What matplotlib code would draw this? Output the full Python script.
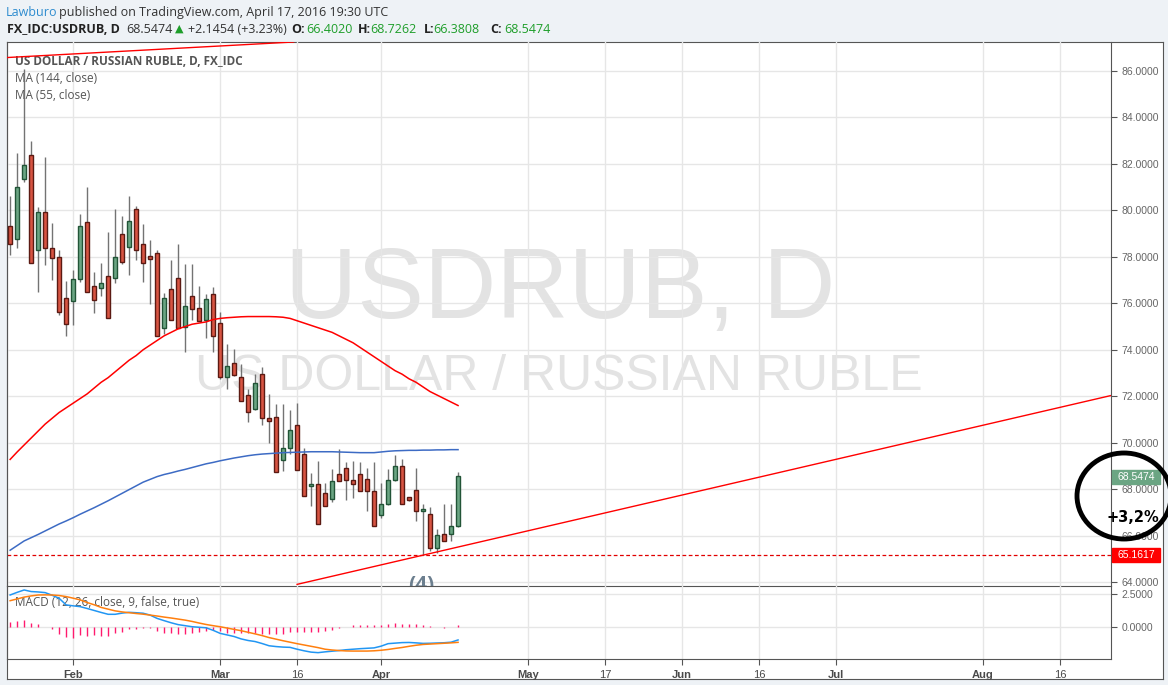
import numpy as np
import pandas as pd
import matplotlib
matplotlib.use("Agg")
import matplotlib.pyplot as plt
from matplotlib.patches import Ellipse, Rectangle

# Donnees (USDRUB, journalier)
start_date = "2016-01-19"

opens = [79.31, 78.77, 81.35, 82.38, 78.30, 79.93, 78.38, 77.99, 76.21, 76.10,
         77.05, 79.48, 76.73, 76.66, 77.18, 77.09, 78.98, 78.42, 80.06, 78.54,
         78.04, 78.17, 74.94, 76.60, 77.07, 74.99, 76.32, 75.80, 75.29, 76.40,
         75.16, 72.82, 73.44, 72.84, 72.06, 71.43, 72.97, 71.08, 71.12, 69.27,
         69.77, 70.78, 69.53, 68.15, 68.24, 67.85, 67.59, 68.67, 68.93, 68.41,
         68.67, 68.45, 67.94, 66.89, 67.36, 68.41, 69.01, 67.68, 67.98, 67.08,
         66.91, 65.45, 66.09, 66.09, 66.40]
highs = [80.60, 82.46, 86.09, 82.99, 80.14, 82.29, 79.46, 78.31, 76.98, 77.45,
         79.84, 81.00, 77.35, 77.74, 79.08, 80.07, 79.77, 80.63, 80.20, 79.43,
         78.74, 78.28, 76.45, 77.88, 78.57, 77.71, 77.71, 76.73, 76.40, 76.70,
         75.63, 74.23, 74.05, 73.40, 72.32, 72.97, 73.27, 72.10, 71.68, 71.68,
         71.39, 71.72, 69.76, 68.71, 69.21, 68.28, 68.85, 69.71, 69.18, 69.20,
         69.18, 68.90, 69.18, 68.28, 68.88, 69.48, 69.28, 67.68, 68.93, 67.38,
         67.25, 66.30, 67.38, 67.38, 68.73]
lows = [78.09, 78.38, 81.24, 77.74, 76.47, 77.63, 76.99, 75.51, 74.58, 75.05,
        76.90, 76.49, 75.57, 76.30, 75.37, 76.88, 77.68, 77.23, 77.85, 76.90,
        75.96, 74.60, 74.68, 75.29, 74.94, 73.89, 75.30, 75.24, 74.51, 73.89,
        72.75, 72.32, 72.85, 71.79, 70.89, 71.40, 70.76, 69.97, 68.75, 68.77,
        69.50, 68.84, 67.71, 67.28, 66.48, 67.28, 67.45, 68.33, 67.53, 67.64,
        67.90, 67.05, 66.43, 66.76, 67.32, 68.37, 67.38, 67.50, 66.61, 65.16,
        65.35, 65.27, 65.75, 65.75, 66.38]
closes = [78.55, 81.00, 81.95, 77.74, 79.93, 78.38, 77.95, 75.63, 75.11, 77.05,
          79.33, 76.49, 76.15, 76.88, 75.37, 77.99, 77.78, 79.54, 78.30, 77.74,
          77.91, 74.60, 76.21, 75.29, 74.94, 75.88, 75.76, 75.24, 76.19, 74.60,
          72.82, 73.31, 72.91, 71.79, 71.32, 72.58, 71.08, 70.95, 68.75, 69.79,
          70.56, 68.84, 67.71, 68.24, 66.48, 67.28, 68.37, 68.33, 68.41, 68.20,
          67.90, 67.94, 66.43, 67.38, 68.41, 69.01, 67.38, 67.55, 67.08, 67.12,
          65.45, 66.02, 65.75, 66.40, 68.55]

ma55 = [69.28, 69.60, 69.90, 70.20, 70.50, 70.80, 71.05, 71.30, 71.50, 71.70,
        71.90, 72.10, 72.35, 72.60, 72.80, 73.05, 73.30, 73.55, 73.75, 74.00,
        74.20, 74.40, 74.60, 74.75, 74.90, 75.00, 75.10, 75.15, 75.20, 75.30,
        75.35, 75.38, 75.40, 75.42, 75.43, 75.43, 75.43, 75.43, 75.42, 75.40,
        75.35, 75.25, 75.15, 75.05, 74.95, 74.85, 74.75, 74.60, 74.45, 74.30,
        74.10, 73.90, 73.70, 73.50, 73.30, 73.10, 72.95, 72.75, 72.60, 72.40,
        72.20, 72.05, 71.90, 71.75, 71.60]
ma144 = [65.37, 65.57, 65.77, 65.91, 66.05, 66.20, 66.35, 66.50, 66.63, 66.77,
         66.92, 67.06, 67.20, 67.35, 67.50, 67.66, 67.82, 67.98, 68.14, 68.30,
         68.42, 68.54, 68.63, 68.70, 68.78, 68.85, 68.93, 69.01, 69.09, 69.15,
         69.22, 69.28, 69.34, 69.39, 69.44, 69.48, 69.51, 69.53, 69.55, 69.57,
         69.58, 69.59, 69.60, 69.61, 69.61, 69.61, 69.61, 69.60, 69.59, 69.58,
         69.57, 69.57, 69.57, 69.60, 69.63, 69.65, 69.66, 69.67, 69.67, 69.68,
         69.68, 69.69, 69.69, 69.70, 69.70]

macd = [2.42, 2.62, 2.80, 2.68, 2.65, 2.60, 2.40, 2.17, 1.67, 1.60,
        1.54, 1.40, 1.25, 1.10, 0.96, 0.96, 1.05, 1.11, 1.08, 1.04,
        0.90, 0.65, 0.48, 0.32, 0.18, 0.10, 0.02, -0.02, -0.06, -0.25,
        -0.48, -0.60, -0.72, -0.90, -1.02, -1.10, -1.25, -1.42, -1.48, -1.52,
        -1.54, -1.68, -1.80, -1.90, -1.94, -1.88, -1.83, -1.78, -1.72, -1.68,
        -1.64, -1.61, -1.58, -1.45, -1.26, -1.22, -1.18, -1.17, -1.20, -1.24,
        -1.23, -1.21, -1.19, -1.15, -0.98]
signal = [1.99, 2.12, 2.26, 2.35, 2.42, 2.43, 2.42, 2.38, 2.30, 2.18,
          2.05, 1.85, 1.68, 1.48, 1.35, 1.22, 1.14, 1.08, 1.02, 0.97,
          0.90, 0.83, 0.75, 0.68, 0.60, 0.52, 0.42, 0.30, 0.19, 0.10,
          0.02, -0.08, -0.18, -0.28, -0.40, -0.52, -0.65, -0.80, -0.92, -1.04,
          -1.15, -1.26, -1.36, -1.46, -1.56, -1.68, -1.74, -1.78, -1.81, -1.82,
          -1.82, -1.82, -1.80, -1.76, -1.70, -1.62, -1.55, -1.46, -1.38, -1.32,
          -1.29, -1.26, -1.23, -1.20, -1.16]
hist = [0.38, 0.43, 0.56, 0.30, 0.20, 0.0, -0.15, -0.51, -0.76, -0.83,
        -0.63, -0.68, -0.63, -0.66, -0.68, -0.45, -0.35, -0.15, -0.13, -0.08,
        -0.10, -0.33, -0.43, -0.48, -0.51, -0.53, -0.43, -0.38, -0.30, -0.20,
        -0.30, -0.43, -0.43, -0.45, -0.45, -0.45, -0.51, -0.51, -0.51, -0.51,
        -0.40, -0.38, -0.38, -0.38, -0.35, -0.33, -0.20, -0.08, 0.0, 0.13,
        0.15, 0.18, 0.13, 0.18, 0.23, 0.28, 0.25, 0.23, 0.20, 0.15,
        0.08, 0.0, -0.08, 0.0, 0.13]

# lignes de tendance tracees a la main (index de barre, prix)
upper_trend_idx = [-0.5, 40.5]
upper_trend_price = [86.58, 87.25]
lower_trend_idx = [41, 157.3]
lower_trend_price = [63.90, 72.03]
support_level = 65.1617
last_price = 68.5474

tick_dates = ["2016-02-01", "2016-03-01", "2016-03-16", "2016-04-01", "2016-05-02",
              "2016-05-17", "2016-06-01", "2016-06-16", "2016-07-01", "2016-08-01",
              "2016-08-16"]
tick_labels = ["Feb", "Mar", "16", "Apr", "May", "17", "Jun", "16", "Jul", "Aug", "16"]
price_ticks = [64, 66, 68, 70, 72, 74, 76, 78, 80, 82, 84, 86]

UP, DOWN = "#6ba583", "#d75442"
UP_EDGE, DOWN_EDGE = "#225437", "#5b1a13"
GRID = "#e6e6e6"
AXC = "#555555"
FONT = ["Open Sans", "DejaVu Sans"]
plt.rcParams["font.family"] = FONT

W, H = 1168, 685


def fbox(x0, y0, x1, y1):
    # conversion pixels (origine en haut a gauche) -> fraction de figure
    return [x0 / W, 1 - y1 / H, (x1 - x0) / W, (y1 - y0) / H]


def main():
    n = len(closes)
    idx = np.arange(n)
    all_days = pd.bdate_range(start_date, periods=200)
    tick_pos = [int(all_days.searchsorted(pd.Timestamp(d))) for d in tick_dates]

    fig = plt.figure(figsize=(W / 100, H / 100), dpi=100)
    fig.patch.set_facecolor("#eef2f6")

    # cadre
    frame = fig.add_axes(fbox(7, 42, 1163, 679))
    frame.set_xticks([])
    frame.set_yticks([])
    for s in frame.spines.values():
        s.set_color(AXC)

    ax = fig.add_axes(fbox(7, 42, 1111, 586))
    mx = fig.add_axes(fbox(7, 586, 1111, 659))

    over = fig.add_axes([0, 0, 1, 1])
    over.set_xlim(0, W)
    over.set_ylim(H, 0)
    over.axis("off")

    xlim = (-0.45, 157.3)

    # --- panneau des prix ---
    ax.set_xlim(*xlim)
    ax.set_ylim(63.83, 87.25)
    ax.set_facecolor("none")
    ax.yaxis.tick_right()
    ax.set_yticks(price_ticks)
    ax.set_yticklabels([f"{v:.4f}" for v in price_ticks], family=["Liberation Sans"])
    ax.tick_params(axis="y", labelsize=7.5, colors=AXC, labelcolor="#666666", length=4, width=0.8)
    ax.set_xticks(tick_pos)
    ax.tick_params(axis="x", length=0, labelbottom=False)
    ax.grid(True, color=GRID, lw=1, zorder=0)
    ax.set_axisbelow(True)
    ax.spines["top"].set_visible(False)
    for s in ["left", "right", "bottom"]:
        ax.spines[s].set_color(AXC)

    # filigrane
    ax.text(560, 318, "USDRUB, D", transform=over.transData, ha="center", va="baseline",
            fontsize=72, color="#e3e3e3", family=["Liberation Sans"], zorder=0)
    ax.text(559, 390, "US DOLLAR / RUSSIAN RUBLE", transform=over.transData,
            ha="center", va="baseline", fontsize=36, color="#e3e3e3",
            family=["Liberation Sans"], zorder=0)

    ax.text(15, 61, "US DOLLAR / RUSSIAN RUBLE, D, FX_IDC", transform=over.transData,
            va="center", fontsize=8.5, fontweight="bold", color=AXC, zorder=1)
    ax.text(15, 78, "MA (144, close)", transform=over.transData, va="center",
            fontsize=8.5, color=AXC, zorder=1)
    ax.text(15, 95, "MA (55, close)", transform=over.transData, va="center",
            fontsize=8.5, color=AXC, zorder=1)

    # bougies
    o = np.array(opens)
    c = np.array(closes)
    up = c >= o
    ax.vlines(idx, lows, highs, color="#737373", lw=1, zorder=3)
    body_lo = np.minimum(o, c)
    body_h = np.maximum(np.abs(c - o), 0.08)
    ax.bar(idx[up], body_h[up], bottom=body_lo[up], width=0.62, color=UP,
           edgecolor=UP_EDGE, lw=1, zorder=4)
    ax.bar(idx[~up], body_h[~up], bottom=body_lo[~up], width=0.62, color=DOWN,
           edgecolor=DOWN_EDGE, lw=1, zorder=4)

    ax.plot(idx, ma55, color="#ff0000", lw=1.1, zorder=5)
    ax.plot(idx, ma144, color="#3d6bc4", lw=1.1, zorder=5)
    ax.plot(upper_trend_idx, upper_trend_price, color="#ff0000", lw=1, zorder=5)
    ax.plot(lower_trend_idx, lower_trend_price, color="#ff0000", lw=1, zorder=5)
    ax.axhline(support_level, color="#e00000", lw=0.9, ls=(0, (3, 2)), zorder=2)

    ax.text(58.8, 64.30, "(4)", ha="center", va="top", fontsize=15, fontweight="bold",
            color="#6c7f8f", clip_on=True, zorder=2)

    # --- panneau MACD ---
    mx.set_xlim(*xlim)
    mx.set_ylim(-2.42, 3.1)
    mx.set_facecolor("none")
    mx.yaxis.tick_right()
    mx.set_yticks([0, 2.5])
    mx.set_yticklabels(["0.0000", "2.5000"], family=["Liberation Sans"])
    mx.tick_params(axis="y", labelsize=7.5, colors=AXC, labelcolor="#666666", length=4, width=0.8)
    mx.set_xticks(tick_pos)
    mx.set_xticklabels(tick_labels, family=["Liberation Sans"])
    mx.tick_params(axis="x", labelsize=8, colors=AXC, labelcolor="#4a4a4a", length=4,
                   width=0.8, pad=4)
    for lab in mx.get_xticklabels():
        if not lab.get_text().isdigit():
            lab.set_fontweight("bold")
    mx.grid(True, color=GRID, lw=1, zorder=0)
    mx.set_axisbelow(True)
    mx.spines["top"].set_visible(False)
    for s in ["left", "right", "bottom"]:
        mx.spines[s].set_color(AXC)

    mx.text(15, 603, "MACD (12, 26, close, 9, false, true)", transform=over.transData,
            va="center", fontsize=8.5, color=AXC, zorder=1)
    mx.vlines(idx, 0, hist, color="#ff1a6e", lw=1, zorder=3)
    mx.plot(idx, macd, color="#2196f3", lw=1.1, zorder=4)
    mx.plot(idx, signal, color="#ff7f0e", lw=1.1, zorder=4)

    # --- en-tete ---
    over.text(6, 12, "Lawburo", color="#2e8ccf", fontsize=9, va="center")
    over.text(59, 12, "published on TradingView.com, April 17, 2016 19:30 UTC",
              color="#333333", fontsize=9, va="center")
    green = "#1e9e2a"
    head = [(7, "FX_IDC:USDRUB, D", "#222222", "bold"),
            (126, "68.5474", "#333333", "normal"),
            (188, "+2.1454 (+3.23%)", "#333333", "normal"),
            (291, "O:", "#222222", "bold"), (306, "66.4020", green, "normal"),
            (358, "H:", "#222222", "bold"), (370, "68.7262", green, "normal"),
            (424, "L:", "#222222", "bold"), (433, "66.3808", green, "normal"),
            (490, "C:", "#222222", "bold"), (504, "68.5474", green, "normal")]
    for x, s, col, fw in head:
        over.text(x, 29, s, color=col, fontsize=9, fontweight=fw, va="center")
    over.text(179, 29, "\u25b2", color=green, fontsize=8, ha="center", va="center",
              family=["DejaVu Sans"])

    # etiquettes sur l'echelle des prix
    over.add_patch(Rectangle((1112, 470), 48, 14, color=UP, zorder=5))
    over.text(1136, 477, f"{last_price:.4f}", color="white", fontsize=7.5,
              ha="center", va="center", family=["Liberation Sans"], zorder=6)
    over.add_patch(Rectangle((1112, 548), 48, 14, color="#ff0000", zorder=5))
    over.text(1136, 555, f"{support_level:.4f}", color="white", fontsize=7.5,
              ha="center", va="center", family=["Liberation Sans"], zorder=6)

    # annotation : ellipse + variation
    over.add_patch(Ellipse((1124, 496), 94, 86, fill=False, lw=3.5, color="black", zorder=7))
    over.text(1133, 517, "+3,2%", fontsize=10.5, fontweight="bold", color="black",
              ha="center", va="center", family=["DejaVu Sans"], zorder=8)

    fig.savefig("out.png", dpi=100, facecolor=fig.get_facecolor())
    plt.close(fig)


if __name__ == "__main__":
    main()
